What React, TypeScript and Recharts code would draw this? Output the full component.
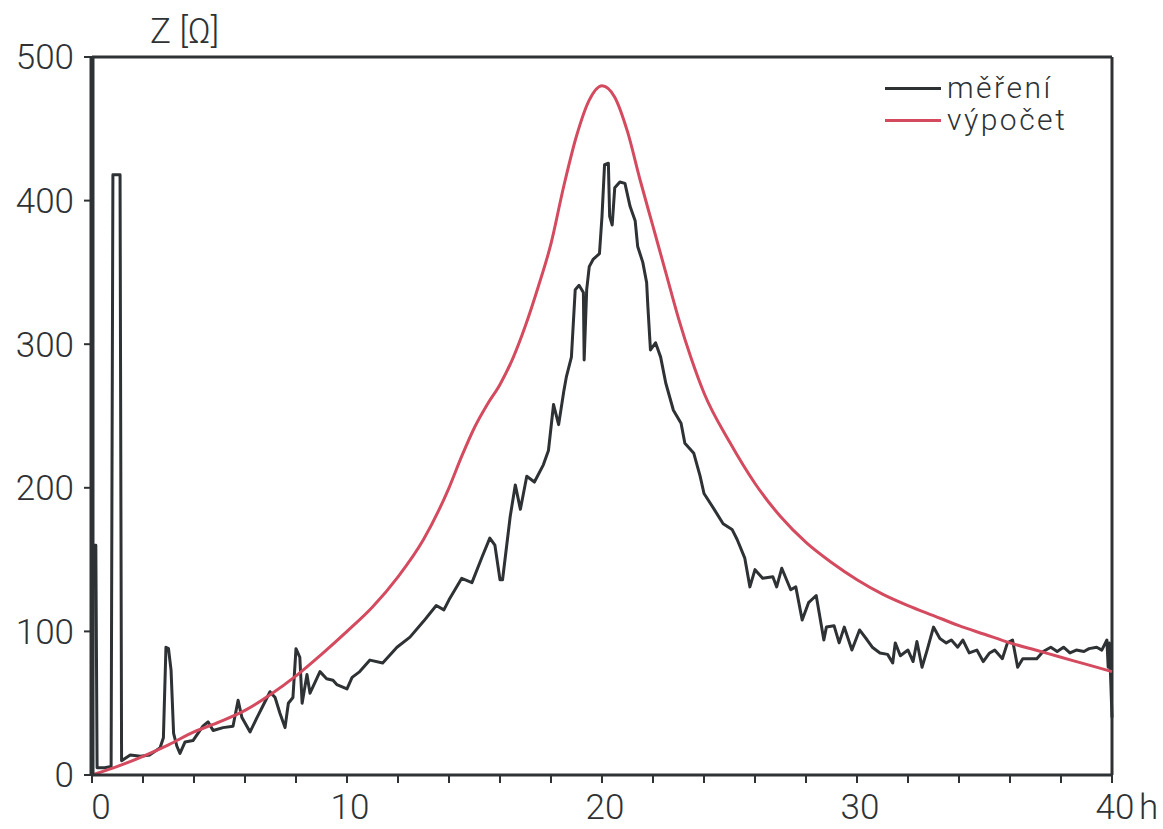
import { LineChart, Line, XAxis, YAxis, ReferenceLine, Legend } from "recharts";

const ink = "#2e3234";
const red = "#d44a5f";
const font = "Roboto, 'DejaVu Sans', sans-serif";

// výpočet (calculated impedance)
const calcHours = [
  0, 1, 2, 3, 4, 5, 6, 7, 8, 9, 10, 11, 12, 13, 14, 14.5, 15, 15.5, 16, 16.5, 17, 17.5, 18, 18.5, 19,
  19.5, 20, 20.5, 21, 21.5, 22, 22.5, 23, 23.5, 24, 25, 26, 27, 28, 29, 30, 31, 32, 33, 34, 35, 36, 37,
  38, 39, 40,
];
const calcValues = [
  0, 6, 13, 21, 30, 37, 45, 56, 69, 84, 100, 117, 138, 164, 200, 222, 242, 258, 272, 290, 313, 340, 370,
  410, 445, 470, 480, 472, 448, 414, 382, 350, 318, 290, 266, 232, 203, 180, 162, 148, 136, 126, 118,
  111, 104, 98, 92, 87, 82, 77, 72,
];

// měření (measured impedance)
const measHours = [
  0, 0.05, 0.15, 0.2, 0.5, 0.75, 0.82, 1.1, 1.16, 1.5, 1.9, 2.27, 2.67, 2.8, 2.9, 3.0, 3.1, 3.2, 3.33,
  3.45, 3.65, 3.96, 4.35, 4.55, 4.75, 5.14, 5.53, 5.73, 5.88, 6.2, 6.47, 6.67, 6.98, 7.18, 7.37, 7.57,
  7.7, 7.88, 8.0, 8.15, 8.24, 8.43, 8.55, 8.94, 9.2, 9.45, 9.6, 10.0, 10.2, 10.5, 10.9, 11.4, 11.96,
  12.47, 13.0, 13.5, 13.8, 14.0, 14.5, 14.9, 15.3, 15.6, 15.8, 16.0, 16.1, 16.4, 16.6, 16.8, 17.05,
  17.35, 17.7, 17.9, 18.1, 18.3, 18.5, 18.6, 18.8, 18.95, 19.1, 19.27, 19.3, 19.4, 19.5, 19.65, 19.9,
  20.0, 20.1, 20.25, 20.3, 20.4, 20.5, 20.7, 20.9, 21.1, 21.3, 21.4, 21.6, 21.75, 21.8, 21.9, 22.1,
  22.3, 22.5, 22.8, 23.1, 23.25, 23.6, 23.85, 24.0, 24.4, 24.75, 25.1, 25.3, 25.6, 25.8, 26.0, 26.3,
  26.7, 26.85, 27.05, 27.4, 27.6, 27.85, 28.1, 28.4, 28.7, 28.8, 29.1, 29.3, 29.5, 29.8, 30.1, 30.4,
  30.6, 30.9, 31.2, 31.4, 31.5, 31.7, 32.0, 32.2, 32.35, 32.55, 32.75, 33.0, 33.25, 33.5, 33.7, 33.95,
  34.15, 34.4, 34.7, 34.95, 35.2, 35.4, 35.7, 35.9, 36.1, 36.3, 36.5, 37.05, 37.3, 37.6, 37.85, 38.1,
  38.35, 38.6, 38.9, 39.1, 39.4, 39.6, 39.8, 39.85, 39.9, 40,
];
const measValues = [
  0, 160, 160, 5, 5, 6, 418, 418, 10, 14, 13, 14, 19, 26, 89, 88, 73, 29, 20, 15, 23, 24, 34, 37, 31,
  33, 34, 52, 40, 30, 40, 47, 58, 54, 43, 33, 50, 54, 88, 82, 50, 70, 57, 72, 67, 66, 63, 60, 68, 72,
  80, 78, 89, 96, 107, 118, 115, 122, 137, 134, 152, 165, 160, 136, 136, 180, 202, 185, 208, 204, 216,
  226, 258, 244, 267, 277, 291, 338, 341, 336, 289, 338, 354, 359, 363, 389, 425, 426, 389, 383, 409,
  413, 412, 396, 386, 368, 357, 343, 326, 296, 301, 291, 273, 254, 245, 231, 224, 208, 196, 185, 175,
  171, 164, 151, 131, 143, 137, 138, 131, 144, 129, 131, 108, 120, 125, 94, 103, 104, 92, 103, 87, 101,
  94, 89, 85, 84, 78, 92, 83, 87, 79, 93, 75, 87, 103, 95, 92, 94, 89, 94, 85, 87, 79, 85, 87, 81, 92,
  94, 75, 81, 81, 86, 89, 86, 89, 85, 87, 86, 88, 89, 87, 94, 75, 92, 40,
];

const xTicks = [0, 2, 4, 6, 8, 10, 12, 14, 16, 18, 20, 22, 24, 26, 28, 30, 32, 34, 36, 38, 40];
const xLabelled = [0, 10, 20, 30, 40];
const yTicks = [0, 100, 200, 300, 400, 500];

const calcData = calcHours.map((h, i) => ({ h, z: calcValues[i] }));
const measData = measHours.map((h, i) => ({ h, z: measValues[i] }));

const textStyle = { fill: ink, fontFamily: font, fontSize: 35, fontWeight: 300 };

function XTick(props: any) {
  const { x, y, payload } = props;
  const v = payload.value;
  if (!xLabelled.includes(v)) return null;
  const dx = v === 0 ? 9 : 3;
  return (
    <g>
      <text x={x + dx} y={y + 22} textAnchor="middle" {...textStyle}>
        {v}
      </text>
      {v === 40 && (
        <text x={x + 27} y={y + 22} textAnchor="start" {...textStyle}>
          h
        </text>
      )}
    </g>
  );
}

function LegendBox(props: any) {
  const items = props.payload ?? [];
  return (
    <div
      style={{
        fontFamily: font,
        fontSize: 30,
        fontWeight: 300,
        letterSpacing: 2.5,
        lineHeight: "32px",
        color: ink,
      }}
    >
      {items.map((item: any) => (
        <div key={item.value} style={{ display: "flex", alignItems: "center" }}>
          <span
            style={{
              display: "inline-block",
              width: 56,
              borderTop: `3px solid ${item.color}`,
              marginRight: 6,
            }}
          />
          {item.value}
        </div>
      ))}
    </div>
  );
}

export default function App() {
  return (
    <div style={{ position: "absolute", left: 0, top: 0, background: "#fff" }}>
      <LineChart width={1163} height={829} margin={{ top: 57, right: 51, bottom: 0, left: 0 }}>
        <XAxis
          type="number"
          dataKey="h"
          domain={[0, 40]}
          ticks={xTicks}
          interval={0}
          height={54}
          tickSize={8}
          tickMargin={14}
          axisLine={{ stroke: ink, strokeWidth: 3 }}
          tickLine={{ stroke: ink, strokeWidth: 2 }}
          tick={<XTick />}
        />
        <YAxis
          type="number"
          domain={[0, 500]}
          ticks={yTicks}
          width={92}
          tickSize={8}
          tickMargin={10}
          axisLine={{ stroke: ink, strokeWidth: 5 }}
          tickLine={{ stroke: ink, strokeWidth: 2 }}
          tick={textStyle}
          label={{
            content: ({ viewBox }: any) => (
              <text x={viewBox.x + viewBox.width + 58} y={viewBox.y - 14} {...textStyle}>
                Z [Ω]
              </text>
            ),
          }}
        />
        <ReferenceLine y={500} stroke={ink} strokeWidth={3} />
        <ReferenceLine x={40} stroke={ink} strokeWidth={3} />
        <Legend
          layout="vertical"
          align="center"
          verticalAlign="middle"
          wrapperStyle={{ top: 72, left: 885, right: "auto", bottom: "auto", width: 270 }}
          content={<LegendBox />}
        />
        <Line
          data={measData}
          dataKey="z"
          name="měření"
          type="linear"
          stroke={ink}
          strokeWidth={3}
          strokeLinejoin="round"
          dot={false}
          isAnimationActive={false}
        />
        <Line
          data={calcData}
          dataKey="z"
          name="výpočet"
          type="monotone"
          stroke={red}
          strokeWidth={3}
          dot={false}
          isAnimationActive={false}
        />
      </LineChart>
    </div>
  );
}
